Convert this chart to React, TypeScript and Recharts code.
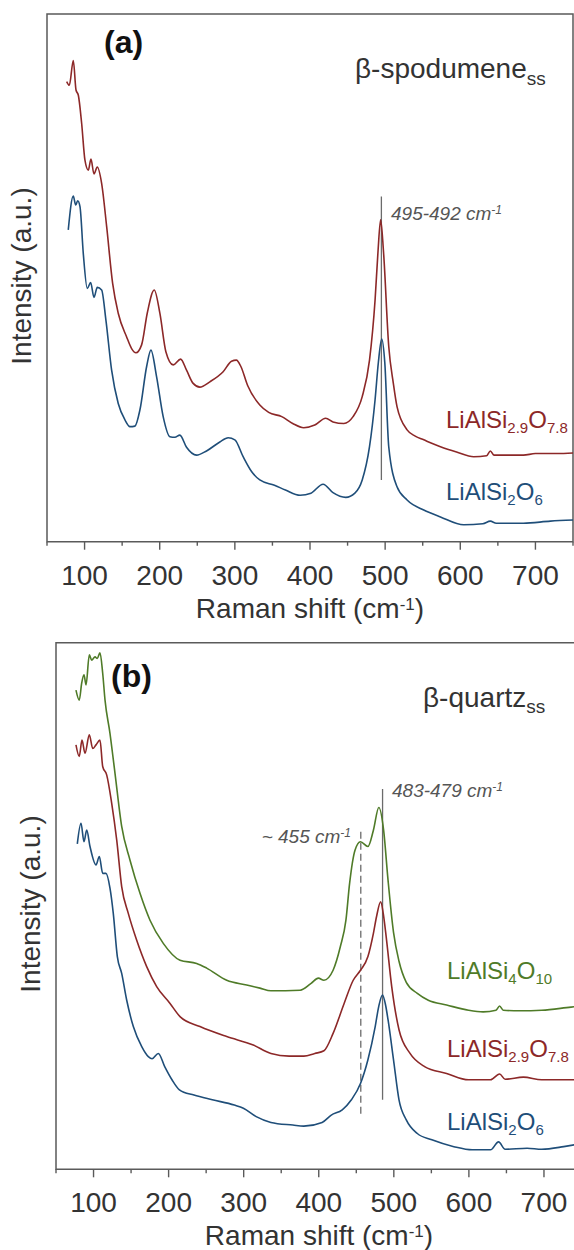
import React from "react";
import { LineChart, Line, XAxis, YAxis, ReferenceArea, ReferenceLine } from "recharts";

const FONT = '"Liberation Sans", Arial, Helvetica, sans-serif';
const RED = "#8c2828";
const BLUE = "#1f4e79";
const GREEN = "#4f7b28";
const AXIS = "#5a5a5a";
const TEXT = "#333333";

// x ticks (Raman shift, cm-1)
const xTicks = [50, 100, 150, 200, 250, 300, 350, 400, 450, 500, 550, 600, 650, 700, 750];
const xLabels = [100, 200, 300, 400, 500, 600, 700];

// (a) beta-spodumene ss  — [shift, intensity a.u.]
const spodLiAlSi29: [number, number][] = [
  [76.2, 87.2], [79.7, 86.5], [85, 91.2], [88.6, 85.6], [91.7, 84.6], [96.1, 79.3], [100.5, 72.3],
  [105, 70.4], [108.5, 72.5], [112.5, 69.7], [116.9, 71.0], [122.7, 67.9], [129.4, 59.7],
  [137.3, 49.0], [144.8, 43.3], [156, 38.8], [162.6, 36.6], [168.3, 35.8], [175.9, 37.3],
  [183.4, 43.3], [192.7, 47.7], [200.2, 43.3], [208.2, 36.0], [218, 33.5], [227.8, 34.6],
  [235.7, 32.5], [244.5, 30.0], [253.4, 29.3], [266.7, 30.3], [284.4, 32.2], [295.6, 34.2],
  [302, 34.4], [308, 33.2], [317, 29.6], [333.2, 25.9], [345, 24.5], [362.4, 23.7], [377, 22.4],
  [391.6, 21.6], [406.3, 22.1], [420.9, 23.4], [430.6, 22.7], [445, 22.4], [457.3, 23.7],
  [469.5, 27.5], [479.2, 34.4], [486.6, 45.8], [490.5, 55], [494, 61.0], [497.8, 55],
  [504.8, 37], [510.9, 30], [515.8, 25.6], [529.2, 21.2], [540, 20], [551.4, 19.3],
  [573.6, 18.0], [595, 17.0], [617.9, 16.1], [635, 16.3], [640, 17.2], [645, 16.4], [665, 16.4],
  [684, 16.4], [700, 16.7], [728.6, 16.7], [750, 16.8],
];

const spodLiAlSi2: [number, number][] = [
  [78.3, 59.1], [85, 65.5], [88.2, 63.8], [90.8, 64.6], [93.9, 63.5], [98.3, 54.6], [103.6, 48.0],
  [108.1, 49.1], [112.5, 46.3], [116.9, 48.2], [122.7, 47.7], [128.4, 42.0], [136, 32.5],
  [144.8, 26.2], [153.7, 23.1], [160.4, 21.8], [167, 21.9], [173.7, 25.0], [182.6, 33.2],
  [188.3, 36.3], [195.8, 31.3], [204.6, 23.7], [213.5, 19.9], [220.2, 19.8], [226.8, 20.2],
  [235.7, 17.9], [249, 16.4], [262.3, 17.2], [280, 18.9], [291.1, 19.7], [300, 19.3],
  [311, 16.1], [322.2, 13.3], [333.2, 11.7], [352.7, 10.7], [367.3, 9.8], [386.8, 8.8],
  [401.3, 9.2], [417.4, 10.9], [430.6, 9.3], [447.6, 8.4], [459.7, 9.2], [469.5, 11.7],
  [479.2, 18.0], [486.6, 26.9], [491, 34], [495.4, 38.4], [499.5, 34], [504.8, 18.0],
  [515.8, 10.4], [529.2, 7.9], [551.4, 6.0], [573.6, 4.7], [604.6, 3.2], [630, 3.4], [640, 3.9],
  [648, 3.5], [684, 3.5], [720, 3.9], [750, 4.1],
];

// (b) beta-quartz ss
const quartzLiAlSi4: [number, number][] = [
  [76.6, 91.0], [81, 89.1], [84.2, 92.3], [87.3, 93.9], [90, 92.0], [94.4, 97.7], [97.5, 96.7],
  [102, 97.3], [105, 97.0], [108.6, 98.1], [112.2, 94.2], [115.3, 89.1], [121.9, 82.8],
  [128.6, 75.2], [137.5, 65.1], [148.6, 58.7], [161.9, 52.4], [175.2, 47.3], [192.9, 42.9],
  [215.2, 39.7], [237.4, 39.1], [250.7, 38.2], [277.4, 35.9], [304, 35.0], [321.7, 34.4],
  [336.3, 33.9], [375.2, 34.0], [389.8, 35.3], [399.5, 36.3], [406.9, 35.9], [419.1, 37.8],
  [428.8, 42.3], [436.2, 47.3], [441.1, 54.3], [448.3, 60.6], [455.6, 62.2], [465.5, 61.3],
  [472.8, 64.4], [480, 68.7], [486.4, 64.4], [492.3, 54.9], [499.6, 45], [506.9, 39.5],
  [516.6, 35.5], [531.3, 33.4], [545.9, 32.1], [570.3, 31.2], [599.5, 30.2], [619, 29.9],
  [636.1, 30.2], [640.9, 31.0], [645.8, 30.2], [667.8, 30.1], [697, 30.2], [736, 30.8], [750, 31],
];

const quartzLiAlSi29: [number, number][] = [
  [76.6, 80.6], [81, 78.4], [84.6, 81.5], [88.6, 79.0], [94.4, 82.5], [98.9, 79.9], [103.3, 80.6],
  [108.6, 81.5], [112.2, 76.5], [117.5, 74.9], [124.2, 69.5], [130.9, 62.5], [137.5, 53.7],
  [146.3, 48.6], [157.5, 43.5], [170.8, 38.5], [184.1, 34.7], [201.9, 31.5], [215.2, 29.0],
  [241.8, 27.1], [277.4, 25.2], [312.8, 23.6], [336.3, 22.0], [360.6, 21.5], [380.1, 21.5],
  [394.7, 22.0], [406.9, 22.5], [419.1, 25.8], [433.8, 31.5], [445.9, 35.9], [455.6, 37.8],
  [465.5, 40.4], [472.8, 44.8], [477, 48], [482.5, 50.8], [486, 48.5], [489.8, 44.2],
  [497.2, 34.7], [506.9, 26.5], [521.6, 22.0], [541, 19.5], [570.3, 18.2], [599.5, 17.0],
  [628.8, 17.0], [640.9, 18.1], [648.3, 17.1], [672.6, 17.5], [697, 17.0], [736, 17.0],
  [750, 17.1],
];

const quartzLiAlSi2: [number, number][] = [
  [78.4, 61.8], [83.3, 65.7], [87.3, 62.2], [90.9, 64.4], [95.3, 61.3], [103.3, 57.8],
  [107.7, 59.4], [112.2, 56.2], [116.6, 56.2], [121.9, 53.4], [126.3, 48.6], [131.7, 40.4],
  [137.5, 37.2], [144.2, 32.1], [153, 27.1], [164.2, 23.3], [173, 21.4], [178, 21.0],
  [186.3, 22.0], [194.8, 19.5], [204.5, 17.0], [214.4, 15.1], [233.8, 14.1], [258.2, 13.2],
  [287.5, 12.2], [299.6, 11.6], [316.7, 10.0], [336.3, 8.9], [365.5, 8.4], [380.1, 8.2],
  [404.5, 8.9], [416.7, 10.3], [431.3, 11.3], [443.5, 13.2], [455.6, 16.3], [465.5, 20.8],
  [475.2, 27.1], [480, 31], [484.9, 33.1], [489, 31.2], [492.3, 28.4], [499.6, 20.8],
  [506.9, 13.2], [516.6, 9.4], [531.3, 6.8], [550.7, 5.6], [580, 4.3], [604.4, 3.7],
  [628.8, 3.7], [639.5, 5.2], [648.3, 3.8], [677.5, 4.0], [697, 3.8], [726.3, 4.3], [750, 4.9],
];

const toPts = (arr: [number, number][]) => arr.map(([x, y]) => ({ x, y }));

function XTick(props: any) {
  const { x, y, payload } = props;
  const major = xLabels.includes(payload.value);
  return (
    <g>
      <line x1={x} x2={x} y1={y} y2={y + (major ? 8 : 4)} stroke={AXIS} strokeWidth={1.4} />
      {major && (
        <text x={x} y={y + 43} textAnchor="middle" fontSize={28} fill={TEXT} fontFamily={FONT}>
          {payload.value}
        </text>
      )}
    </g>
  );
}

type Series = { pts: [number, number][]; color: string };
type Seg = { x: number; y1: number; y2: number; dash?: string };

function Panel(props: {
  width: number;
  margin: { top: number; right: number; bottom: number; left: number };
  series: Series[];
  marks: Seg[];
}) {
  return (
    <LineChart width={props.width} height={625} margin={props.margin}>
      <XAxis
        type="number"
        dataKey="x"
        domain={[50, 750]}
        ticks={xTicks}
        interval={0}
        tick={(p: any) => <XTick {...p} />}
        tickLine={false}
        tickSize={0}
        tickMargin={0}
        axisLine={false}
        height={60}
        allowDataOverflow
      />
      <YAxis type="number" domain={[0, 100]} hide allowDataOverflow />
      <ReferenceArea x1={50} x2={750} y1={0} y2={100} fill="none" stroke={AXIS} strokeWidth={1.5} />
      {props.marks.map((m, i) => (
        <ReferenceLine
          key={i}
          segment={[{ x: m.x, y: m.y1 }, { x: m.x, y: m.y2 }]}
          stroke="#6b6b6b"
          strokeWidth={1.3}
          strokeDasharray={m.dash}
        />
      ))}
      {props.series.map((s, i) => (
        <Line
          key={i}
          data={toPts(s.pts)}
          dataKey="y"
          type="monotone"
          stroke={s.color}
          strokeWidth={1.6}
          dot={false}
          activeDot={false}
          isAnimationActive={false}
        />
      ))}
    </LineChart>
  );
}

const sub = (t: string) => (
  <tspan fontSize={15} dy={5}>{t}</tspan>
);

export default function App() {
  return (
    <div style={{ position: "absolute", left: 0, top: 0, width: 574, height: 1250, overflow: "hidden", background: "#fff" }}>
      <div style={{ position: "absolute", left: 0, top: 0 }}>
        <Panel
          width={574}
          margin={{ top: 14, right: 1, bottom: 23.3, left: 47 }}
          series={[
            { pts: spodLiAlSi29, color: RED },
            { pts: spodLiAlSi2, color: BLUE },
          ]}
          marks={[{ x: 495, y1: 65.4, y2: 11.7 }]}
        />
      </div>
      <div style={{ position: "absolute", left: 0, top: 625 }}>
        <Panel
          width={590}
          margin={{ top: 17.7, right: 8.5, bottom: 20.7, left: 56 }}
          series={[
            { pts: quartzLiAlSi4, color: GREEN },
            { pts: quartzLiAlSi29, color: RED },
            { pts: quartzLiAlSi2, color: BLUE },
          ]}
          marks={[
            { x: 485, y1: 72.2, y2: 13.2 },
            { x: 456, y1: 64.1, y2: 9.9, dash: "7 4" },
          ]}
        />
      </div>
      <svg
        width={574}
        height={1250}
        style={{ position: "absolute", left: 0, top: 0, pointerEvents: "none" }}
        fontFamily={FONT}
      >
        {/* panel (a) */}
        <text x={104} y={53} fontSize={32} fontWeight="bold" fill="#111">(a)</text>
        <text x={355} y={78} fontSize={28} fill={TEXT}>
          β-spodumene<tspan fontSize={19} dy={7}>ss</tspan>
        </text>
        <text x={391} y={220} fontSize={19} fontStyle="italic" fill="#555">
          495-492 cm<tspan fontSize={12} dy={-6}>-1</tspan>
        </text>
        <text x={446} y={428} fontSize={24} fill={RED}>
          LiAlSi{sub("2.9")}<tspan dy={-5}>O</tspan>{sub("7.8")}
        </text>
        <text x={446} y={500} fontSize={24} fill={BLUE}>
          LiAlSi{sub("2")}<tspan dy={-5}>O</tspan>{sub("6")}
        </text>
        <text x={310} y={618} textAnchor="middle" fontSize={28} fill={TEXT}>
          Raman shift (cm<tspan fontSize={17} dy={-8}>-1</tspan><tspan dy={8}>)</tspan>
        </text>
        <text transform="translate(31,276) rotate(-90)" textAnchor="middle" fontSize={28} fill={TEXT}>
          Intensity (a.u.)
        </text>

        {/* panel (b) */}
        <text x={111} y={687} fontSize={32} fontWeight="bold" fill="#111">(b)</text>
        <text x={423} y={707} fontSize={28} fill={TEXT}>
          β-quartz<tspan fontSize={19} dy={6}>ss</tspan>
        </text>
        <text x={392} y={797} fontSize={19} fontStyle="italic" fill="#555">
          483-479 cm<tspan fontSize={12} dy={-6}>-1</tspan>
        </text>
        <text x={351} y={843} textAnchor="end" fontSize={19} fontStyle="italic" fill="#555">
          ~ 455 cm<tspan fontSize={12} dy={-6}>-1</tspan>
        </text>
        <text x={447} y={979} fontSize={24} fill={GREEN}>
          LiAlSi{sub("4")}<tspan dy={-5}>O</tspan>{sub("10")}
        </text>
        <text x={447} y={1057} fontSize={24} fill={RED}>
          LiAlSi{sub("2.9")}<tspan dy={-5}>O</tspan>{sub("7.8")}
        </text>
        <text x={447} y={1130} fontSize={24} fill={BLUE}>
          LiAlSi{sub("2")}<tspan dy={-5}>O</tspan>{sub("6")}
        </text>
        <text x={319} y={1245} textAnchor="middle" fontSize={28} fill={TEXT}>
          Raman shift (cm<tspan fontSize={17} dy={-8}>-1</tspan><tspan dy={8}>)</tspan>
        </text>
        <text transform="translate(40,904) rotate(-90)" textAnchor="middle" fontSize={28} fill={TEXT}>
          Intensity (a.u.)
        </text>
      </svg>
    </div>
  );
}
